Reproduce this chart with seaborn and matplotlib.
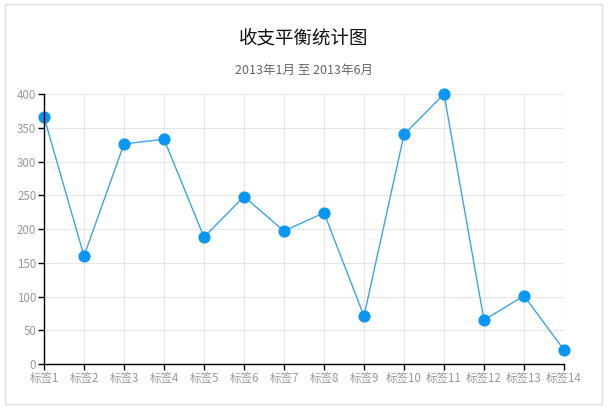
import matplotlib
matplotlib.use("Agg")
import matplotlib.pyplot as plt
import seaborn as sns
import pandas as pd
from matplotlib.patches import Rectangle

labels = ["标签1", "标签2", "标签3", "标签4", "标签5", "标签6", "标签7",
          "标签8", "标签9", "标签10", "标签11", "标签12", "标签13", "标签14"]
values = [366, 160, 326, 333, 188, 248, 197, 224, 71, 340, 400, 65, 101, 21]
yticks = [0, 50, 100, 150, 200, 250, 300, 350, 400]
title = "收支平衡统计图"
subtitle = "2013年1月 至 2013年6月"

sns.set_theme(style="white")
plt.rcParams['font.family'] = ['Noto Sans CJK SC', 'DejaVu Sans']

W, H = 609, 411
fig = plt.figure(figsize=(W / 100, H / 100), dpi=100)
ax = fig.add_axes([44 / W, (H - 364) / H, (564 - 44) / W, (364 - 94) / H])

df = pd.DataFrame({"label": labels, "value": values})
df["pos"] = range(len(labels))
sns.lineplot(data=df, x="pos", y="value", ax=ax, color="#3aa6e6", linewidth=1.0,
             marker="o", markersize=8, markerfacecolor="#0a96f5",
             markeredgecolor="#0a96f5", sort=False)

ax.set_xlim(0, len(labels) - 1)
ax.set_ylim(0, 400)
ax.set_xticks(range(len(labels)))
ax.set_xticklabels(labels)
ax.set_yticks(yticks)
ax.set_xlabel("")
ax.set_ylabel("")
for sp in ["top", "right"]:
    ax.spines[sp].set_visible(False)
for sp in ["left", "bottom"]:
    ax.spines[sp].set_color("black")
    ax.spines[sp].set_linewidth(1.0)
ax.grid(True, color="#e6e6e6", linewidth=0.8)
ax.set_axisbelow(True)
ax.tick_params(axis="both", which="major", length=4, width=1, color="black",
               labelsize=8.3, labelcolor="#999999", pad=1.5, direction="out")
ax.tick_params(axis="x", bottom=True)
ax.tick_params(axis="y", left=True)
for l in ax.get_lines():
    l.set_clip_on(False)

fig.text(304 / W, 1 - 38 / H, title, ha="center", va="center", fontsize=13.3, color="#111111")
fig.text(304 / W, 1 - 70 / H, subtitle, ha="center", va="center", fontsize=9, color="#666666")

fig.patches.append(Rectangle((4.5 / W, (H - 403.5) / H), (602 - 4.5) / W, (403.5 - 4.5) / H,
                             transform=fig.transFigure, fill=False,
                             edgecolor="#e0e0e0", linewidth=1.0))

fig.savefig("out.png", dpi=100)
